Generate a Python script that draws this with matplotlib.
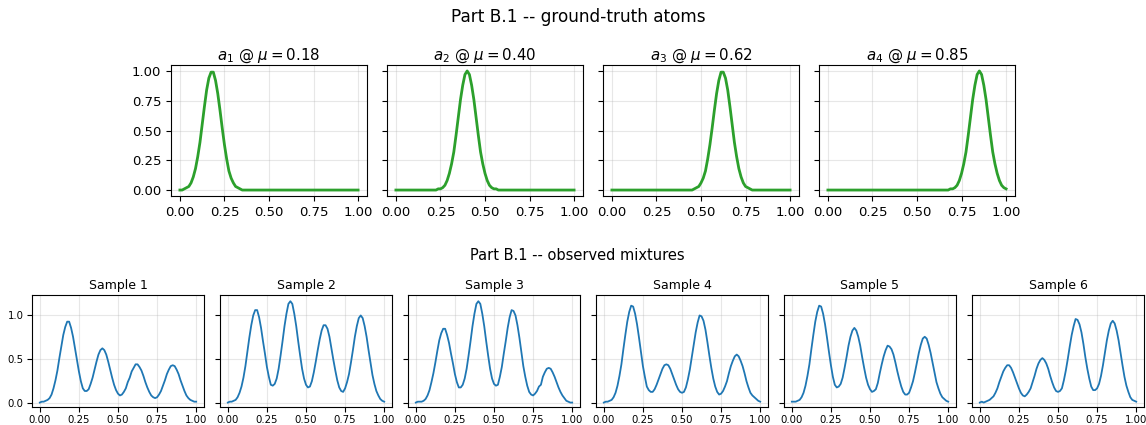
import numpy as np
import matplotlib.pyplot as plt

# Eje x comun (paso 0.0125, 81 puntos)
x = np.linspace(0, 1, 81)

# Atomos "verdaderos"
mus = [0.18, 0.40, 0.62, 0.85]
atomo_1 = ([0.00, 0.00, 0.01, 0.02, 0.03, 0.06, 0.11, 0.18, 0.28, 0.40,
            0.55, 0.70, 0.84, 0.94, 0.99, 0.99, 0.92, 0.81, 0.67, 0.52,
            0.38, 0.26, 0.16, 0.10, 0.06, 0.03, 0.02, 0.01, 0.00, 0.00]
           + [0.00] * 51)
atomo_2 = ([0.00] * 19
           + [0.01, 0.01, 0.02, 0.04, 0.08, 0.14, 0.22, 0.32, 0.46, 0.61,
              0.76, 0.88, 0.97, 1.00, 0.97, 0.88, 0.76, 0.61, 0.46, 0.32,
              0.22, 0.14, 0.08, 0.04, 0.02, 0.01, 0.01]
           + [0.00] * 35)
atomo_3 = ([0.00] * 36
           + [0.00, 0.01, 0.02, 0.03, 0.06, 0.10, 0.16, 0.26, 0.38, 0.52,
              0.67, 0.81, 0.92, 0.99, 0.99, 0.94, 0.84, 0.70, 0.55, 0.40,
              0.28, 0.18, 0.11, 0.06, 0.03, 0.02, 0.01, 0.00]
           + [0.00] * 17)
atomo_4 = ([0.00] * 55
           + [0.01, 0.01, 0.02, 0.04, 0.08, 0.14, 0.22, 0.32, 0.46, 0.61,
              0.76, 0.88, 0.97, 1.00, 0.97, 0.88, 0.76, 0.61, 0.46, 0.32,
              0.22, 0.14, 0.08, 0.04, 0.02, 0.01])
atomos = [atomo_1, atomo_2, atomo_3, atomo_4]

# Mezclas observadas
muestra_1 = [0.01, 0.02, 0.02, 0.03, 0.04, 0.06, 0.10, 0.17, 0.26, 0.37,
             0.51, 0.64, 0.77, 0.86, 0.92, 0.92, 0.85, 0.75, 0.62, 0.49,
             0.36, 0.25, 0.17, 0.14, 0.14, 0.16, 0.22, 0.29, 0.38, 0.47,
             0.55, 0.60, 0.62, 0.60, 0.55, 0.47, 0.38, 0.29, 0.21, 0.15,
             0.11, 0.09, 0.10, 0.13, 0.17, 0.24, 0.29, 0.36, 0.40, 0.44,
             0.44, 0.41, 0.37, 0.31, 0.24, 0.18, 0.13, 0.09, 0.07, 0.06,
             0.07, 0.10, 0.14, 0.20, 0.26, 0.33, 0.38, 0.42, 0.43, 0.42,
             0.38, 0.33, 0.26, 0.20, 0.14, 0.09, 0.06, 0.04, 0.03, 0.02, 0.02]
muestra_2 = [0.01, 0.02, 0.02, 0.03, 0.04, 0.07, 0.12, 0.19, 0.29, 0.42,
             0.58, 0.74, 0.88, 0.99, 1.05, 1.05, 0.97, 0.85, 0.70, 0.56,
             0.41, 0.30, 0.21, 0.20, 0.22, 0.28, 0.39, 0.54, 0.70, 0.87,
             1.01, 1.12, 1.15, 1.12, 1.01, 0.87, 0.70, 0.54, 0.39, 0.28,
             0.21, 0.18, 0.19, 0.25, 0.35, 0.47, 0.60, 0.72, 0.82, 0.88,
             0.88, 0.84, 0.75, 0.62, 0.49, 0.37, 0.26, 0.18, 0.14, 0.13,
             0.17, 0.24, 0.33, 0.46, 0.60, 0.75, 0.87, 0.96, 0.99, 0.96,
             0.87, 0.75, 0.60, 0.46, 0.32, 0.22, 0.14, 0.09, 0.05, 0.03, 0.02]
muestra_3 = [0.01, 0.02, 0.02, 0.02, 0.03, 0.05, 0.09, 0.15, 0.24, 0.34,
             0.46, 0.59, 0.71, 0.79, 0.84, 0.84, 0.77, 0.68, 0.56, 0.45,
             0.33, 0.24, 0.18, 0.18, 0.21, 0.28, 0.39, 0.54, 0.70, 0.87,
             1.01, 1.12, 1.15, 1.12, 1.01, 0.87, 0.70, 0.54, 0.39, 0.28,
             0.22, 0.20, 0.21, 0.30, 0.41, 0.56, 0.70, 0.85, 0.97, 1.05,
             1.04, 0.99, 0.88, 0.74, 0.58, 0.42, 0.30, 0.20, 0.13, 0.10,
             0.09, 0.11, 0.14, 0.19, 0.21, 0.30, 0.35, 0.39, 0.40, 0.39,
             0.35, 0.30, 0.24, 0.18, 0.13, 0.09, 0.06, 0.03, 0.02, 0.01, 0.01]
muestra_4 = [0.01, 0.02, 0.02, 0.03, 0.04, 0.07, 0.12, 0.20, 0.31, 0.44,
             0.61, 0.77, 0.92, 1.03, 1.10, 1.09, 1.01, 0.89, 0.74, 0.58,
             0.42, 0.30, 0.19, 0.15, 0.13, 0.13, 0.16, 0.21, 0.27, 0.33,
             0.39, 0.43, 0.44, 0.43, 0.39, 0.33, 0.27, 0.21, 0.16, 0.13,
             0.12, 0.13, 0.18, 0.27, 0.38, 0.52, 0.66, 0.80, 0.91, 0.99,
             0.98, 0.93, 0.83, 0.69, 0.54, 0.40, 0.28, 0.19, 0.13, 0.10,
             0.11, 0.14, 0.19, 0.25, 0.34, 0.42, 0.48, 0.53, 0.55, 0.53,
             0.48, 0.42, 0.34, 0.25, 0.18, 0.12, 0.09, 0.07, 0.05, 0.03, 0.02]
muestra_5 = [0.02, 0.02, 0.02, 0.03, 0.04, 0.07, 0.12, 0.20, 0.31, 0.44,
             0.61, 0.77, 0.92, 1.03, 1.10, 1.09, 1.01, 0.89, 0.74, 0.58,
             0.43, 0.30, 0.21, 0.18, 0.19, 0.22, 0.29, 0.40, 0.52, 0.65,
             0.75, 0.82, 0.85, 0.82, 0.75, 0.65, 0.52, 0.40, 0.29, 0.21,
             0.16, 0.13, 0.14, 0.16, 0.23, 0.34, 0.44, 0.53, 0.60, 0.65,
             0.64, 0.61, 0.55, 0.46, 0.36, 0.27, 0.19, 0.13, 0.10, 0.10,
             0.12, 0.18, 0.25, 0.35, 0.46, 0.57, 0.66, 0.73, 0.75, 0.73,
             0.66, 0.57, 0.46, 0.35, 0.24, 0.17, 0.11, 0.07, 0.05, 0.03, 0.02]
muestra_6 = [0.01, 0.02, 0.01, 0.02, 0.03, 0.04, 0.06, 0.08, 0.12, 0.17,
             0.24, 0.30, 0.36, 0.40, 0.43, 0.43, 0.40, 0.35, 0.29, 0.23,
             0.17, 0.12, 0.09, 0.08, 0.10, 0.13, 0.17, 0.24, 0.31, 0.39,
             0.45, 0.49, 0.51, 0.49, 0.45, 0.39, 0.31, 0.24, 0.18, 0.14,
             0.13, 0.14, 0.17, 0.26, 0.37, 0.50, 0.64, 0.77, 0.87, 0.95,
             0.94, 0.89, 0.80, 0.67, 0.52, 0.39, 0.28, 0.19, 0.15, 0.15,
             0.17, 0.22, 0.31, 0.43, 0.57, 0.71, 0.82, 0.90, 0.93, 0.90,
             0.82, 0.71, 0.57, 0.43, 0.30, 0.20, 0.13, 0.07, 0.04, 0.03, 0.02]
muestras = [muestra_1, muestra_2, muestra_3, muestra_4, muestra_5, muestra_6]

W, H = 1146, 425
fig = plt.figure(figsize=(W / 100, H / 100), dpi=100)

# Fila superior: atomos
fig.text(0.505, 1 - 17 / H, 'Part B.1 -- ground-truth atoms', ha='center', va='center', fontsize=12.2)
izq_sup = [171, 387, 603, 819]
ax0 = None
for k, (a, mu) in enumerate(zip(atomos, mus)):
    ax = fig.add_axes([izq_sup[k] / W, 1 - 196 / H, 196 / W, 131 / H], sharey=ax0)
    if ax0 is None:
        ax0 = ax
    ax.plot(x, a, color='tab:green', lw=2)
    ax.set_title(rf'$a_{k + 1}$ @ $\mu={mu:.2f}$', fontsize=10.8, pad=4)
    ax.grid(True, alpha=0.3)
    ax.set_xticks([0, 0.25, 0.5, 0.75, 1.0])
    ax.tick_params(labelsize=9.5)
    if k > 0:
        ax.tick_params(labelleft=False)
ax0.set_ylim(-0.05, 1.05)
ax0.set_yticks([0, 0.25, 0.5, 0.75, 1.0])

# Fila inferior: mezclas
fig.text(0.504, 1 - 255 / H, 'Part B.1 -- observed mixtures', ha='center', va='center', fontsize=10.5)
izq_inf = [32, 220, 408, 596, 784, 972]
ax0 = None
for k, m in enumerate(muestras):
    ax = fig.add_axes([izq_inf[k] / W, 1 - 407 / H, 172 / W, 112 / H], sharey=ax0)
    if ax0 is None:
        ax0 = ax
    ax.plot(x, m, color='tab:blue', lw=1.3)
    ax.set_title(f'Sample {k + 1}', fontsize=9, pad=4)
    ax.grid(True, alpha=0.3)
    ax.set_xticks([0, 0.25, 0.5, 0.75, 1.0])
    ax.tick_params(labelsize=7.3, pad=2.5)
    if k > 0:
        ax.tick_params(labelleft=False)
ax0.set_ylim(-0.04, 1.22)
ax0.set_yticks([0, 0.5, 1.0])

fig.savefig('out.png', dpi=100)
